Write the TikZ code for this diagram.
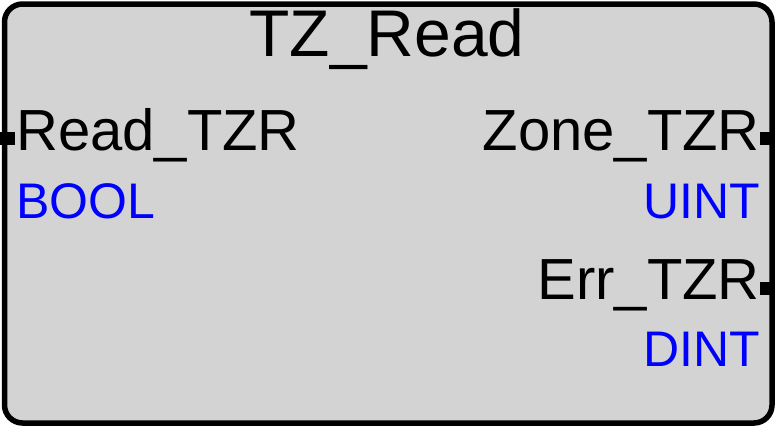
\documentclass[tikz,border=0pt]{standalone}
\usepackage{fontspec}
\setmainfont{Liberation Sans}
\usepackage{tikz}
\usetikzlibrary{positioning}
\definecolor{fbgray}{HTML}{D3D3D3}
\definecolor{fbblue}{HTML}{0000FF}
\tikzset{fbname/.style={inner sep=0pt,font=\fontsize{58}{58}\selectfont}}
\tikzset{fbtype/.style={inner sep=0pt,text=fbblue,font=\fontsize{50}{50}\selectfont}}
\tikzset{fbport/.style={fill=black,inner sep=0pt,minimum width=15pt,minimum height=13pt}}

\begin{document}
\begin{tikzpicture}[x=1pt,y=-1pt,on grid]
        \useasboundingbox (0,0) rectangle (775,429);
        \draw[line width=5.5pt,rounded corners=18pt,fill=fbgray] (4.5,4) rectangle (772,423);
        \node(title)[inner sep=0pt,anchor=base,font=\fontsize{66}{66}\selectfont] at (387,56) {TZ\_Read};
        % inputs
        \node(iRead)[fbname,anchor=base west] at (16,150) {Read\_TZR};
        \node(tRead)[fbtype,below=68pt of iRead.base west,anchor=base west] {BOOL};
        % outputs
        \node(oZone)[fbname,anchor=base east] at (760,150) {Zone\_TZR};
        \node(tZone)[fbtype,below=68pt of oZone.base east,anchor=base east] {UINT};
        \node(oErr)[fbname,anchor=base east] at (760,299.3) {Err\_TZR};
        \node(tErr)[fbtype,below=67.5pt of oErr.base east,anchor=base east] {DINT};
        % port marks on the frame
        \node(pRead)[fbport] at (7.5,138.5) {};
        \node(pZone)[fbport] at (767.5,138.5) {};
        \node(pErr)[fbport] at (767.5,288.5) {};
      \end{tikzpicture}
\end{document}
